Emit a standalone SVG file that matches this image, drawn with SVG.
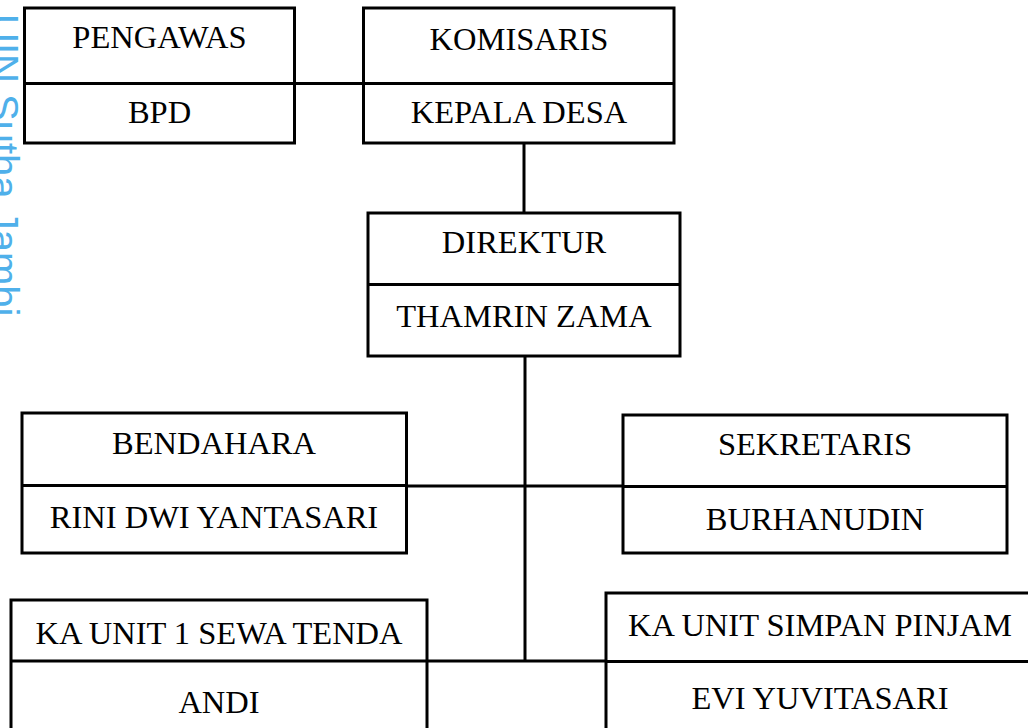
<svg xmlns="http://www.w3.org/2000/svg" width="1028" height="728" viewBox="0 0 1028 728">
<style>
.box{fill:#fff;stroke:#000;stroke-width:3}
.div{stroke:#000;stroke-width:3}
.conn{stroke:#000;stroke-width:3;fill:none}
.t{font-family:"Liberation Serif","Times New Roman",serif;font-size:32.5px;fill:#000;text-anchor:middle}
.wm{font-family:"Liberation Sans",Arial,sans-serif;font-size:40px;fill:#4fb0ea}
</style>
<rect width="1028" height="728" fill="#fff"/>
<text class="wm" transform="translate(-10,14) rotate(90)">UIN Sutha Jambi</text>
<g id="connectors">
<line class="conn" x1="294.5" y1="83.5" x2="363.5" y2="83.5"/>
<line class="conn" x1="524" y1="143" x2="524" y2="213"/>
<line class="conn" x1="525" y1="356" x2="525" y2="661"/>
<line class="conn" x1="406.5" y1="486" x2="623" y2="486"/>
<line class="conn" x1="427" y1="661" x2="606" y2="661"/>
</g>
<g id="pengawas">
<rect class="box" x="24.5" y="8" width="270" height="135"/>
<line class="div" x1="24.5" y1="83.5" x2="294.5" y2="83.5"/>
<text class="t" x="159.5" y="48">PENGAWAS</text>
<text class="t" x="159.5" y="123">BPD</text>
</g>
<g id="komisaris">
<rect class="box" x="363.5" y="8" width="310.5" height="135"/>
<line class="div" x1="363.5" y1="83.5" x2="674" y2="83.5"/>
<text class="t" x="519" y="50">KOMISARIS</text>
<text class="t" x="519" y="123">KEPALA DESA</text>
</g>
<g id="direktur">
<rect class="box" x="368" y="213" width="312" height="143"/>
<line class="div" x1="368" y1="284.5" x2="680" y2="284.5"/>
<text class="t" x="524" y="253">DIREKTUR</text>
<text class="t" x="524" y="327">THAMRIN ZAMA</text>
</g>
<g id="bendahara">
<rect class="box" x="22" y="413" width="384.5" height="140"/>
<line class="div" x1="22" y1="485.5" x2="406.5" y2="485.5"/>
<text class="t" x="214" y="454">BENDAHARA</text>
<text class="t" x="214" y="528">RINI DWI YANTASARI</text>
</g>
<g id="sekretaris">
<rect class="box" x="623" y="415" width="384" height="138"/>
<line class="div" x1="623" y1="486.5" x2="1007" y2="486.5"/>
<text class="t" x="815" y="455">SEKRETARIS</text>
<text class="t" x="815" y="530">BURHANUDIN</text>
</g>
<g id="unit1">
<rect class="box" x="11" y="600" width="416" height="150"/>
<line class="div" x1="11" y1="661" x2="427" y2="661"/>
<text class="t" x="219" y="644">KA UNIT 1 SEWA TENDA</text>
<text class="t" x="219" y="713">ANDI</text>
</g>
<g id="simpanpinjam">
<rect class="box" x="606" y="593" width="440" height="160"/>
<line class="div" x1="606" y1="661.5" x2="1046" y2="661.5"/>
<text class="t" x="820" y="636">KA UNIT SIMPAN PINJAM</text>
<text class="t" x="820" y="709">EVI YUVITASARI</text>
</g>
</svg>
